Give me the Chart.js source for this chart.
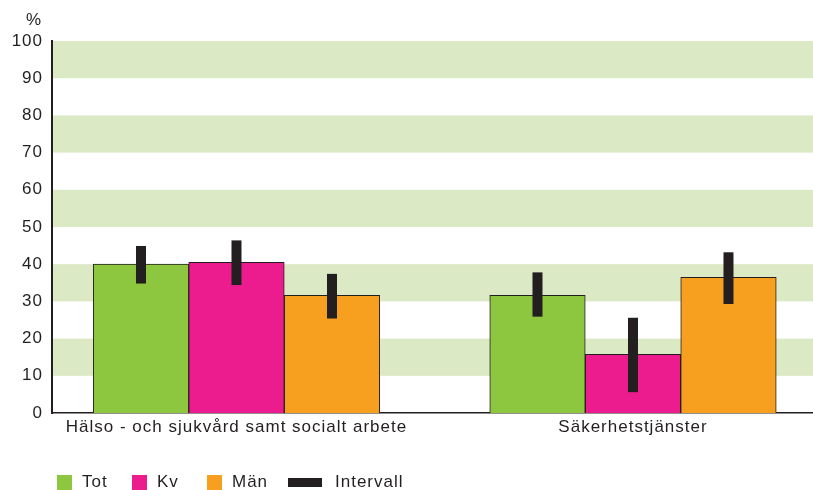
<!DOCTYPE html>
<html><head><meta charset="utf-8">
<script src="https://cdn.jsdelivr.net/npm/chart.js@4.4.1/dist/chart.umd.min.js"></script>
<style>html,body{margin:0;padding:0;background:#fff}canvas{display:block}</style>
</head><body>
<canvas id="c" width="813" height="490" style="width:813px;height:490px"></canvas>
<script>
const categories = ['Hälso - och sjukvård samt socialt arbete', 'Säkerhetstjänster'];
const seriesNames = ['Tot', 'Kv', 'Män'];
const totValues = [40.0, 31.6];
const kvValues = [40.5, 15.8];
const manValues = [31.6, 36.5];
const totLow = [34.8, 25.9];
const totHigh = [44.9, 37.8];
const kvLow = [34.4, 5.6];
const kvHigh = [46.4, 25.6];
const manLow = [25.4, 29.3];
const manHigh = [37.4, 43.2];
const yTicks = [0, 10, 20, 30, 40, 50, 60, 70, 80, 90, 100];
const intervalLabel = 'Intervall';
const unitLabel = '%';

const INK = '#231f20';
const FONT = "'Liberation Sans', Arial, sans-serif";
const FSIZE = 17;
const colors = ['#8dc63f', '#ec1c8f', '#f7a01f'];
const lows = [totLow, kvLow, manLow];
const highs = [totHigh, kvHigh, manHigh];
const values = [totValues, kvValues, manValues];

function setSpacing(chart) { try { chart.ctx.letterSpacing = '1px'; } catch (e) {} }

const spacingPlugin = {
  id: 'spacing',
  afterInit: setSpacing,
  beforeUpdate: setSpacing,
  beforeLayout: setSpacing,
  beforeDraw: setSpacing
};

const bandsPlugin = {
  id: 'bands',
  beforeDraw(chart) {
    const y = chart.scales.y, a = chart.chartArea, ctx = chart.ctx;
    ctx.save();
    ctx.fillStyle = '#dbe9c5';
    for (let i = 1; i < yTicks.length - 1; i += 2) {
      const top = y.getPixelForValue(yTicks[i + 1]);
      const bot = y.getPixelForValue(yTicks[i]);
      ctx.fillRect(a.left, top, a.right - a.left, bot - top);
    }
    ctx.restore();
  }
};

const errorPlugin = {
  id: 'errs',
  afterDatasetsDraw(chart) {
    const y = chart.scales.y, ctx = chart.ctx;
    ctx.save();
    ctx.fillStyle = INK;
    values.forEach((arr, d) => {
      const meta = chart.getDatasetMeta(d);
      meta.data.forEach((el, j) => {
        const t = y.getPixelForValue(highs[d][j]);
        const b = y.getPixelForValue(lows[d][j]);
        ctx.fillRect(el.x - 5, t, 10, b - t);
      });
    });
    ctx.restore();
  }
};

const extrasPlugin = {
  id: 'extras',
  afterDraw(chart) {
    const ctx = chart.ctx, a = chart.chartArea;
    ctx.save();
    setSpacing(chart);
    ctx.font = FSIZE + 'px ' + FONT;
    ctx.fillStyle = INK;
    ctx.textBaseline = 'middle';
    ctx.textAlign = 'center';
    ctx.fillText(unitLabel, a.left - 18, a.top - 21);
    // legend
    const xs = [57, 132, 207, 288];
    const cy = 482.5;
    ctx.textAlign = 'left';
    seriesNames.forEach((n, i) => {
      ctx.fillStyle = colors[i];
      ctx.fillRect(xs[i], cy - 7.5, 15, 15);
      ctx.fillStyle = INK;
      ctx.fillText(n, xs[i] + 25, cy);
    });
    ctx.fillStyle = INK;
    ctx.fillRect(xs[3], cy - 4.5, 34, 9);
    ctx.fillText(intervalLabel, xs[3] + 47, cy);
    ctx.restore();
  }
};

const datasets = seriesNames.map((name, d) => ({
  label: name,
  data: values[d].map((v, i) => ({ x: i, y: v })),
  backgroundColor: colors[d],
  borderColor: INK,
  borderWidth: 1,
  barThickness: 95.5
}));

new Chart(document.getElementById('c'), {
  type: 'bar',
  data: { datasets },
  options: {
    responsive: false,
    devicePixelRatio: 1,
    animation: false,
    layout: { padding: { top: 41, left: 0, right: 0, bottom: 0 } },
    plugins: { legend: { display: false }, tooltip: { enabled: false } },
    scales: {
      x: {
        type: 'linear',
        offset: false,
        min: -0.4653,
        max: 1.454,
        grid: { display: false, drawTicks: false, offset: false },
        border: { display: true, color: INK, width: 1.5 },
        afterBuildTicks: s => { s.ticks = categories.map((_, i) => ({ value: i })); },
        afterFit: s => { s.height = 77; },
        ticks: {
          autoSkip: false, maxRotation: 0, minRotation: 0, padding: 4,
          color: INK, font: { family: FONT, size: FSIZE },
          callback: v => categories[v] !== undefined ? categories[v] : ''
        }
      },
      y: {
        min: 0, max: 100,
        grid: { display: false, drawTicks: false },
        border: { display: true, color: INK, width: 2 },
        afterBuildTicks: s => { s.ticks = yTicks.map(v => ({ value: v })); },
        afterFit: s => { s.width = 52; },
        ticks: { padding: 9, color: INK, font: { family: FONT, size: FSIZE } }
      }
    }
  },
  plugins: [spacingPlugin, bandsPlugin, errorPlugin, extrasPlugin]
});
</script>
</body></html>
